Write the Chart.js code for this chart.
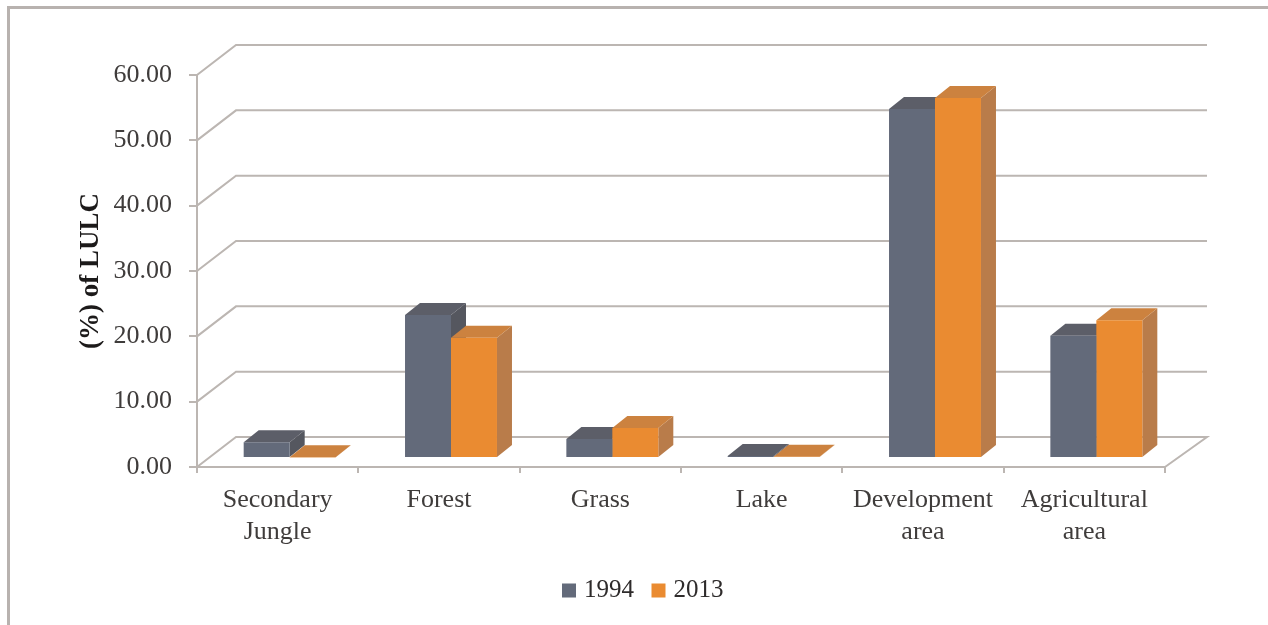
<!DOCTYPE html>
<html>
<head>
<meta charset="utf-8">
<title>LULC change</title>
<script src="https://cdn.jsdelivr.net/npm/chart.js@4"></script>
<style>
    html, body { margin: 0; padding: 0; background: #fff; overflow: hidden; }
    #frame { position: absolute; left: 7px; top: 6px; right: 0; bottom: 0; border-left: 3px solid #b8b2af; border-top: 3px solid #b8b2af; }
    #lulcChart { position: absolute; left: 0; top: 0; }
</style>
</head>
<body>
<div id="frame"></div>
<canvas id="lulcChart" width="1268" height="625"></canvas>
<script>
// Land use / land cover shares
const categories = [['Secondary', 'Jungle'], 'Forest', 'Grass', 'Lake', ['Development', 'area'], ['Agricultural', 'area']];
const values1994 = [2.4, 21.9, 2.9, 0.3, 53.4, 18.7];
const values2013 = [0.1, 18.4, 4.6, 0.2, 55.1, 21.1];
const yearLabels = ['1994', '2013'];

const axisColor = '#bcb6b2';
const textColor = '#3f3c3b';
const serifFont = '"Liberation Serif", serif';

// front, top and side shades for each series
const faceColors = [
    { front: '#636a7a', top: '#5c5e68', side: '#55575f' },
    { front: '#ea8b31', top: '#cc823f', side: '#b97c4a' }
];

// the back wall sits this far behind the axes, the bars stand part way into that floor
const wallDepth = { x: 39, y: -30 };
const barOffset = { x: 12, y: -9 };
const barDepth = { x: 15, y: -12 };

function fillPoly(ctx, points, color) {
    ctx.fillStyle = color;
    ctx.beginPath();
    points.forEach((p, i) => i ? ctx.lineTo(p[0], p[1]) : ctx.moveTo(p[0], p[1]));
    ctx.closePath();
    ctx.fill();
}

const pseudo3d = {
    id: 'pseudo3d',
    afterLayout(chart) {
        // the legend is centred a little right of its default box
        chart.legend.left += 27.5;
        chart.legend.right += 27.5;
    },
    beforeDatasetsDraw(chart) {
        const ctx = chart.ctx;
        const { left, right } = chart.chartArea;
        const yScale = chart.scales.y;

        // wall lines: one per y tick, running back and then across
        ctx.save();
        ctx.strokeStyle = axisColor;
        ctx.lineWidth = 2;
        yScale.ticks.forEach((t, i) => {
            const y = yScale.getPixelForTick(i);
            ctx.beginPath();
            ctx.moveTo(left, y);
            ctx.lineTo(left + wallDepth.x, y + wallDepth.y);
            ctx.lineTo(right + wallDepth.x + 3, y + wallDepth.y);
            if (t.value === 0) ctx.lineTo(right, y);
            ctx.stroke();
        });
        ctx.restore();

        // side and top faces go under the front faces the bar controller paints
        ctx.save();
        ctx.translate(barOffset.x, barOffset.y);
        categories.forEach((c, idx) => {
            chart.data.datasets.forEach((ds, dsIdx) => {
                const bar = chart.getDatasetMeta(dsIdx).data[idx];
                const xr = bar.x + bar.width / 2;
                const xl = bar.x - bar.width / 2;
                const d = barDepth;
                fillPoly(ctx, [[xr, bar.base], [xr + d.x, bar.base + d.y], [xr + d.x, bar.y + d.y], [xr, bar.y]], faceColors[dsIdx].side);
                fillPoly(ctx, [[xl, bar.y], [xl + d.x, bar.y + d.y], [xr + d.x, bar.y + d.y], [xr, bar.y]], faceColors[dsIdx].top);
            });
        });
    },
    afterDatasetsDraw(chart) {
        chart.ctx.restore();
    }
};

new Chart(document.getElementById('lulcChart'), {
    type: 'bar',
    data: {
        labels: categories,
        datasets: [
            { label: yearLabels[0], data: values1994, backgroundColor: faceColors[0].front, clip: false },
            { label: yearLabels[1], data: values2013, backgroundColor: faceColors[1].front, clip: false }
        ]
    },
    options: {
        responsive: false,
        animation: false,
        categoryPercentage: 0.57,
        barPercentage: 1,
        layout: { padding: { left: 70, right: 103, top: 75, bottom: 12 } },
        plugins: {
            tooltip: { enabled: false },
            legend: {
                position: 'bottom',
                labels: {
                    // rect marker wider than its slot, which pulls it closer to the text
                    usePointStyle: true,
                    pointStyle: 'rect',
                    boxWidth: 5,
                    boxHeight: 14,
                    padding: 22,
                    color: '#2e2b2b',
                    font: { family: serifFont, size: 25 }
                }
            }
        },
        scales: {
            x: {
                afterFit: s => { s.height = 89; },
                border: { color: axisColor, width: 2 },
                grid: { drawOnChartArea: false, color: axisColor, lineWidth: 2, tickLength: 6 },
                ticks: {
                    autoSkip: false,
                    maxRotation: 0,
                    padding: 12,
                    color: textColor,
                    font: { family: serifFont, size: 26, lineHeight: 1.2 }
                }
            },
            y: {
                min: 0,
                max: 60,
                afterFit: s => { s.width = 127; },
                border: { color: axisColor, width: 2 },
                grid: { drawOnChartArea: false, color: axisColor, lineWidth: 2, tickLength: 8 },
                title: {
                    display: true,
                    text: '(%) of LULC',
                    color: '#1c1a1a',
                    padding: { top: 5, bottom: 0 },
                    font: { family: serifFont, size: 27, weight: 'bold' }
                },
                ticks: {
                    stepSize: 10,
                    padding: 17,
                    color: textColor,
                    font: { family: serifFont, size: 26 },
                    callback: v => v.toFixed(2)
                }
            }
        }
    },
    plugins: [pseudo3d]
});
</script>
</body>
</html>
